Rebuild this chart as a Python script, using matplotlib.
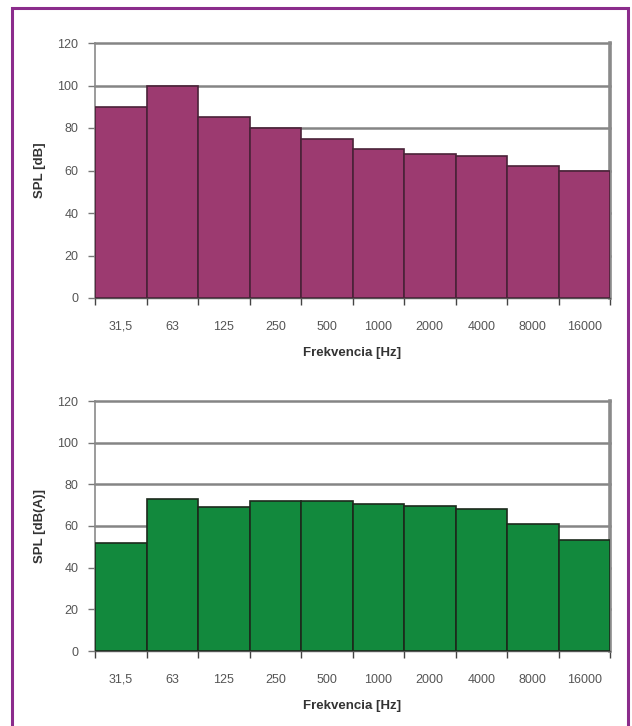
import matplotlib
matplotlib.use("Agg")
import matplotlib.pyplot as plt
from matplotlib.patches import Rectangle
import numpy as np

plt.rcParams['font.family'] = ['Liberation Sans', 'DejaVu Sans']

frequencies = ["31,5", "63", "125", "250", "500", "1000", "2000", "4000", "8000", "16000"]
spl_db = [90, 100, 85, 80, 75, 70, 68, 67, 62, 60]
spl_dba = [52, 73, 69, 72, 72, 70.5, 69.5, 68, 61, 53.5]
y_ticks = [0, 20, 40, 60, 80, 100, 120]

W, H = 632, 726
fig = plt.figure(figsize=(W / 100, H / 100), dpi=100)

# purple frame around the whole panel
fig.patches.append(Rectangle((12 / W, -0.02), (628 - 12) / W, (726 - 8) / H + 0.02,
                             transform=fig.transFigure, fill=False,
                             edgecolor="#8B2C8C", linewidth=2.2, zorder=10))


def draw_panel(rect, values, color, edge, ylabel):
    ax = fig.add_axes(rect)
    x = np.arange(len(values))
    ax.bar(x, values, width=1.0, color=color, edgecolor=edge, linewidth=1.2, zorder=3)
    ax.set_xlim(-0.5, len(values) - 0.5)
    ax.set_ylim(0, 120)
    ax.set_yticks(y_ticks)
    ax.set_yticklabels([str(v) for v in y_ticks], color="#555555", fontsize=9)
    ax.set_xticks(x)
    ax.set_xticklabels(frequencies, color="#555555", fontsize=9, va="baseline")
    ax.set_xticks(np.arange(-0.5, len(values) + 0.5, 1.0), minor=True)
    ax.tick_params(axis="x", which="major", length=0, pad=23)
    ax.tick_params(axis="x", which="minor", length=5, width=1.0, color="#444444")
    ax.tick_params(axis="y", length=5, width=1.0, color="#777777", pad=7)
    for v in y_ticks[1:]:
        ax.axhline(v, color="#858585", linewidth=1.8, zorder=1, clip_on=False)
    ax.spines["top"].set_visible(False)
    ax.spines["left"].set_color("#8a8a8a")
    ax.spines["left"].set_linewidth(1.2)
    ax.spines["bottom"].set_color("#555555")
    ax.spines["bottom"].set_linewidth(1.0)
    ax.spines["right"].set_color("#8a8a8a")
    ax.spines["right"].set_linewidth(2.6)
    ax.set_xlabel("Frekvencia [Hz]", fontsize=9.5, fontweight="bold", color="#333333", labelpad=10)
    ax.set_ylabel(ylabel, fontsize=9.5, fontweight="bold", color="#333333", labelpad=8)
    return ax


draw_panel([95 / W, 1 - 298 / H, (610 - 95) / W, (298 - 43) / H],
           spl_db, "#9C3A70", "#4a2238", "SPL [dB]")
draw_panel([95 / W, 1 - 651 / H, (610 - 95) / W, (651 - 401) / H],
           spl_dba, "#12893D", "#1c2a1c", "SPL [dB(A)]")

fig.savefig("out.png", dpi=100, facecolor="white")
